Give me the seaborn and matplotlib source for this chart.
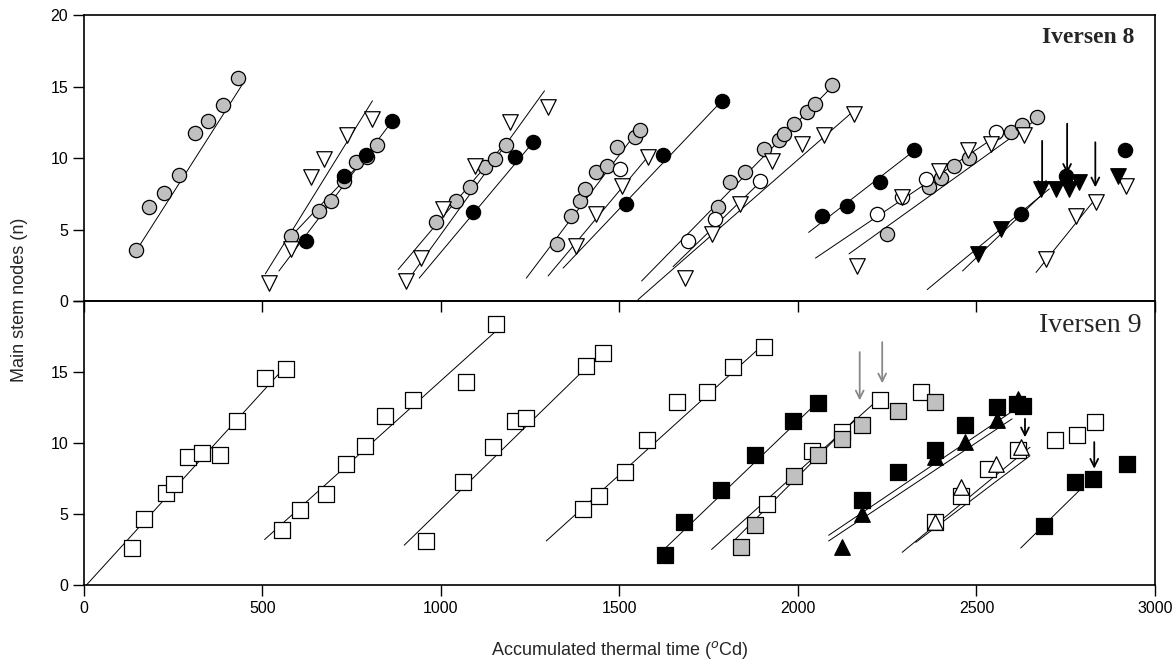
import matplotlib
matplotlib.use("Agg")
import matplotlib.pyplot as plt
import seaborn as sns

# ---- Iversen 8 (top panel) ----
i8_grey_x = [146, 181, 223, 265, 310, 347, 390, 431,
             579, 658, 691, 728, 761, 794, 822,
             986, 1042, 1080, 1122, 1150, 1183,
             1326, 1365, 1389, 1403, 1435, 1464, 1492, 1543, 1557,
             1777, 1810, 1852, 1904, 1946, 1960, 1988, 2025, 2049, 2096,
             2250, 2367, 2400, 2438, 2480, 2597, 2629, 2671]
i8_grey_y = [3.56, 6.55, 7.56, 8.82, 11.74, 12.58, 13.68, 15.63,
             4.56, 6.3, 7.0, 8.4, 9.7, 10.06, 10.88,
             5.5, 7.0, 7.95, 9.36, 9.9, 10.88,
             3.98, 5.96, 7.0, 7.84, 9.0, 9.47, 10.76, 11.47, 11.93,
             6.55, 8.3, 9.0, 10.64, 11.23, 11.7, 12.4, 13.2, 13.8, 15.1,
             4.68, 7.95, 8.6, 9.47, 10.0, 11.81, 12.28, 12.86]

i8_white_x = [1501, 1693, 1768, 1894, 2222, 2292, 2360, 2554]
i8_white_y = [9.24, 4.2, 5.73, 8.42, 6.08, 7.26, 8.5, 11.81]

i8_black_x = [621, 728, 789, 864, 1089, 1206, 1258, 1517, 1621, 1787,
              2067, 2138, 2231, 2325, 2625, 2751, 2915]
i8_black_y = [4.2, 8.77, 10.2, 12.58, 6.2, 10.06, 11.1, 6.78, 10.18, 14.0,
              5.96, 6.67, 8.3, 10.53, 6.08, 8.77, 10.57]

i8_wtri_x = [518, 579, 635, 672, 738, 808,
             902, 944, 1005, 1094, 1192, 1300,
             1379, 1435, 1506, 1580,
             1684, 1758, 1838, 1927, 2011, 2072, 2156,
             2166, 2292, 2395, 2475, 2540, 2634,
             2695, 2779, 2835, 2919]
i8_wtri_y = [1.28, 3.63, 8.65, 9.94, 11.58, 12.75,
             1.4, 3.04, 6.43, 9.47, 12.5, 13.57,
             3.86, 6.08, 8.07, 10.06,
             1.64, 4.68, 6.78, 9.82, 11.0, 11.58, 13.1,
             2.46, 7.26, 9.12, 10.53, 11.0, 11.58,
             2.92, 5.96, 6.9, 8.07]

i8_btri_x = [2503, 2568, 2681, 2723, 2760, 2788, 2896]
i8_btri_y = [3.27, 5.03, 7.84, 7.84, 7.84, 8.3, 8.77]

# fitted lines, start/end
i8_fit_x0 = [146, 508, 560, 546, 900, 880, 939, 1239, 1300, 1342, 1562, 1552, 1650, 2030, 2049, 2143, 2362, 2461, 2667]
i8_fit_x1 = [445, 808, 830, 864, 1290, 1185, 1258, 1560, 1590, 1787, 2096, 2161, 1910, 2325, 2560, 2685, 2704, 2690, 2835]
i8_fit_y0 = [3.5, 1.9, 4.0, 2.1, 1.2, 2.2, 1.6, 1.6, 1.75, 2.3, 1.4, 0.1, 2.4, 4.8, 3.0, 3.3, 0.8, 2.1, 2.0]
i8_fit_y1 = [15.2, 14.0, 11.1, 12.6, 14.7, 11.2, 11.1, 12.2, 10.4, 14.0, 15.0, 13.4, 8.7, 10.5, 11.6, 13.0, 7.84, 7.6, 7.2]

i8_arrow_x = [2684, 2754, 2833]
i8_arrow_top = [11.2, 12.4, 11.1]
i8_arrow_tip = [7.7, 8.9, 7.95]

# ---- Iversen 9 (bottom panel) ----
i9_wsq_x = [134, 169, 229, 251, 290, 331, 380, 429, 506, 565,
            555, 604, 677, 735, 788, 843, 921, 1070, 1155,
            958, 1061, 1145, 1206, 1239, 1407, 1454,
            1398, 1442, 1515, 1576, 1660, 1744, 1819, 1906,
            1913, 2039, 2122, 2229, 2346,
            2384, 2458, 2533, 2617,
            2720, 2782, 2832]
i9_wsq_y = [2.57, 4.68, 6.48, 7.13, 9.0, 9.29, 9.12, 11.58, 14.57, 15.2,
            3.9, 5.26, 6.39, 8.49, 9.78, 11.93, 13.05, 14.3, 18.4,
            3.1, 7.25, 9.7, 11.53, 11.77, 15.44, 16.37,
            5.38, 6.24, 7.95, 10.18, 12.87, 13.57, 15.32, 16.77,
            5.68, 9.42, 10.76, 13.03, 13.57,
            4.44, 6.3, 8.19, 9.47,
            10.18, 10.57, 11.46]

i9_gsq_x = [1840, 1880, 1988, 2056, 2122, 2180, 2280, 2384]
i9_gsq_y = [2.69, 4.21, 7.67, 9.12, 10.29, 11.27, 12.23, 12.87]

i9_bsq_x = [1627, 1681, 1784, 1880, 1986, 2056,
            2180, 2281, 2384, 2468, 2558, 2614, 2631,
            2689, 2776, 2827, 2923]
i9_bsq_y = [2.1, 4.44, 6.67, 9.12, 11.58, 12.8,
            5.96, 7.95, 9.52, 11.3, 12.5, 12.75, 12.63,
            4.14, 7.25, 7.49, 8.49]

i9_btri_x = [2122, 2180, 2384, 2468, 2558, 2617]
i9_btri_y = [2.69, 5.03, 9.0, 10.06, 11.63, 13.1]

i9_wtri_x = [2384, 2458, 2556, 2626]
i9_wtri_y = [4.44, 6.9, 8.54, 9.7]

i9_fit_x0 = [7, 506, 897, 1295, 1608, 1758, 1824, 2086, 2086, 2292, 2330, 2624]
i9_fit_x1 = [565, 1155, 1460, 1906, 2056, 2222, 2161, 2640, 2600, 2650, 2650, 2790]
i9_fit_y0 = [0.0, 3.2, 2.8, 3.1, 2.1, 2.5, 3.2, 3.5, 3.1, 2.3, 3.0, 2.6]
i9_fit_y1 = [15.4, 17.9, 16.6, 17.0, 12.9, 13.0, 11.7, 12.9, 11.7, 9.7, 9.1, 6.7]

i9_garrow_x = [2173, 2236]
i9_garrow_top = [16.4, 17.1]
i9_garrow_tip = [13.0, 14.2]
i9_barrow_x = [2636, 2830]
i9_barrow_top = [11.7, 10.06]
i9_barrow_tip = [10.4, 8.19]

x_ticks = [0, 500, 1000, 1500, 2000, 2500, 3000]

sns.set_style("ticks")
plt.rcParams['font.family'] = ['Liberation Sans', 'DejaVu Sans']

fig = plt.figure(figsize=(11.73, 6.70), dpi=100)
ax_top = fig.add_axes([0.0716, 0.5507, 0.913, 0.4269])
ax_bot = fig.add_axes([0.0716, 0.1269, 0.913, 0.4239])
# let the top panel's outward x ticks show over the lower panel
ax_top.set_zorder(2)
ax_top.patch.set_visible(False)
ax_bot.patch.set_visible(False)

GREY = '#c0c0c0'


def pts(ax, x, y, marker, face, size):
    sns.scatterplot(x=x, y=y, ax=ax, marker=marker, color=face,
                    edgecolor='black', linewidth=0.9, s=size,
                    zorder=3, legend=False)


def fits(ax, x0, x1, y0, y1):
    for a, b, c, d in zip(x0, x1, y0, y1):
        ax.plot([a, b], [c, d], color='black', lw=0.7, zorder=2)


def arrows(ax, xs, tops, tips, col):
    for x, t, p in zip(xs, tops, tips):
        ax.annotate("", xy=(x, p), xytext=(x, t),
                    arrowprops=dict(arrowstyle='->', color=col, lw=1.3,
                                    shrinkA=0, shrinkB=0,
                                    mutation_scale=14),
                    zorder=4)


# top panel
fits(ax_top, i8_fit_x0, i8_fit_x1, i8_fit_y0, i8_fit_y1)
pts(ax_top, i8_grey_x, i8_grey_y, 'o', GREY, 105)
pts(ax_top, i8_white_x, i8_white_y, 'o', 'white', 105)
pts(ax_top, i8_black_x, i8_black_y, 'o', 'black', 105)
pts(ax_top, i8_wtri_x, i8_wtri_y, 'v', 'white', 125)
pts(ax_top, i8_btri_x, i8_btri_y, 'v', 'black', 125)
arrows(ax_top, i8_arrow_x, i8_arrow_top, i8_arrow_tip, 'black')

# bottom panel
fits(ax_bot, i9_fit_x0, i9_fit_x1, i9_fit_y0, i9_fit_y1)
pts(ax_bot, i9_wsq_x, i9_wsq_y, 's', 'white', 125)
pts(ax_bot, i9_gsq_x, i9_gsq_y, 's', GREY, 125)
pts(ax_bot, i9_bsq_x, i9_bsq_y, 's', 'black', 125)
pts(ax_bot, i9_btri_x, i9_btri_y, '^', 'black', 125)
pts(ax_bot, i9_wtri_x, i9_wtri_y, '^', 'white', 125)
arrows(ax_bot, i9_garrow_x, i9_garrow_top, i9_garrow_tip, '#888888')
arrows(ax_bot, i9_barrow_x, i9_barrow_top, i9_barrow_tip, 'black')

for ax in (ax_top, ax_bot):
    ax.set_xlim(0, 3000)
    ax.set_ylim(0, 20)
    ax.set_xticks(x_ticks)
    ax.set_yticks([0, 5, 10, 15, 20])
    ax.tick_params(direction='out', length=8, width=1.0, labelsize=11.5,
                   colors='black')
    ax.set_xlabel("")
    ax.set_ylabel("")
    for s in ax.spines.values():
        s.set_visible(True)
        s.set_linewidth(1.2)
        s.set_color('black')

ax_top.tick_params(axis='x', bottom=True, labelbottom=False)
ax_bot.set_yticklabels(['0', '5', '10', '15', ''])
ax_bot.set_xticklabels([str(t) for t in x_ticks])

ax_top.text(0.981, 0.921, "Iversen 8", transform=ax_top.transAxes,
            ha='right', va='center', fontsize=17, fontweight='bold',
            family=['Liberation Serif', 'DejaVu Serif'])
ax_bot.text(0.988, 0.912, "Iversen 9", transform=ax_bot.transAxes,
            ha='right', va='center', fontsize=20,
            family=['Liberation Serif', 'DejaVu Serif'])

fig.text(0.528, 0.03, "Accumulated thermal time ($^{o}$Cd)",
         ha='center', va='center', fontsize=13)
fig.text(0.017, 0.552, "Main stem nodes (n)", rotation=90,
         ha='center', va='center', fontsize=13)

fig.savefig("out.png", dpi=100)
